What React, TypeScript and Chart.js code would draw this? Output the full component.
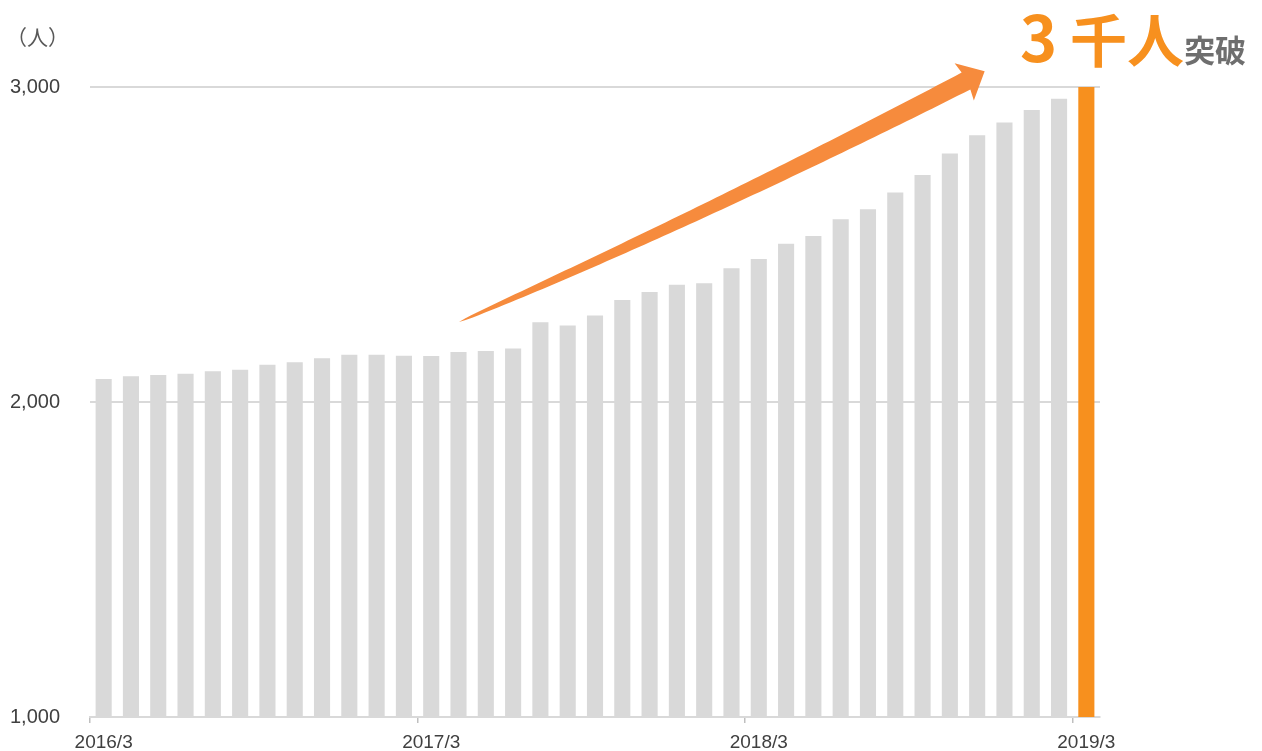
import React, { useEffect, useRef } from 'react';
import { Chart, registerables } from 'chart.js';

Chart.register(...registerables);

const months: string[] = [
  '2016/3', '2016/4', '2016/5', '2016/6', '2016/7', '2016/8', '2016/9', '2016/10', '2016/11', '2016/12',
  '2017/1', '2017/2', '2017/3', '2017/4', '2017/5', '2017/6', '2017/7', '2017/8', '2017/9', '2017/10',
  '2017/11', '2017/12', '2018/1', '2018/2', '2018/3', '2018/4', '2018/5', '2018/6', '2018/7', '2018/8',
  '2018/9', '2018/10', '2018/11', '2018/12', '2019/1', '2019/2', '2019/3',
];

const members: number[] = [
  2073, 2082, 2086, 2090, 2098, 2102, 2118, 2126, 2139, 2150,
  2150, 2147, 2146, 2159, 2162, 2170, 2253, 2243, 2275, 2324,
  2349, 2372, 2377, 2425, 2454, 2502, 2527, 2580, 2612, 2665,
  2721, 2789, 2847, 2887, 2927, 2963, 3000,
];

const yTicks: number[] = [1000, 2000, 3000];

const GRAY = '#D9D9D9';
const ORANGE = '#F7901E';
const ARROW = '#F68B3D';
const TEXT = '#404040';

const arrowPlugin = {
  id: 'growthArrow',
  afterDatasetsDraw(chart: any) {
    const ctx = chart.ctx as CanvasRenderingContext2D;
    const P0 = { x: 459, y: 322 };
    const C = { x: 712, y: 212 };
    const P2 = { x: 966, y: 81 };
    const N = 80;
    const maxHalf = 9.5;
    const upper: { x: number; y: number }[] = [];
    const lower: { x: number; y: number }[] = [];
    let lastD = { x: 1, y: 0 };
    for (let i = 0; i <= N; i++) {
      const t = i / N;
      const mt = 1 - t;
      const px = mt * mt * P0.x + 2 * mt * t * C.x + t * t * P2.x;
      const py = mt * mt * P0.y + 2 * mt * t * C.y + t * t * P2.y;
      let dx = 2 * mt * (C.x - P0.x) + 2 * t * (P2.x - C.x);
      let dy = 2 * mt * (C.y - P0.y) + 2 * t * (P2.y - C.y);
      const len = Math.hypot(dx, dy);
      dx /= len;
      dy /= len;
      lastD = { x: dx, y: dy };
      const nx = -dy;
      const ny = dx;
      const h = maxHalf * Math.pow(t, 0.55);
      upper.push({ x: px - nx * h, y: py - ny * h });
      lower.push({ x: px + nx * h, y: py + ny * h });
    }
    const d = lastD;
    const n = { x: -d.y, y: d.x };
    const headHalf = 21;
    const headLen = 21;
    const sweep = 2;
    ctx.save();
    ctx.fillStyle = ARROW;
    ctx.beginPath();
    ctx.moveTo(upper[0].x, upper[0].y);
    for (let i = 1; i < upper.length; i++) ctx.lineTo(upper[i].x, upper[i].y);
    ctx.lineTo(P2.x - n.x * headHalf - d.x * sweep, P2.y - n.y * headHalf - d.y * sweep);
    ctx.lineTo(P2.x + d.x * headLen, P2.y + d.y * headLen);
    ctx.lineTo(P2.x + n.x * headHalf - d.x * sweep, P2.y + n.y * headHalf - d.y * sweep);
    for (let i = lower.length - 1; i >= 0; i--) ctx.lineTo(lower[i].x, lower[i].y);
    ctx.closePath();
    ctx.fill();
    ctx.restore();
  },
};

export default function App() {
  const canvasRef = useRef<HTMLCanvasElement | null>(null);

  useEffect(() => {
    if (!canvasRef.current) return;
    document.body.style.margin = '0';
    const colors = members.map((_, i) => (i === members.length - 1 ? ORANGE : GRAY));
    const chart = new Chart(canvasRef.current, {
      type: 'bar',
      data: {
        labels: months,
        datasets: [
          {
            data: members,
            backgroundColor: colors,
            borderWidth: 0,
            barPercentage: 0.59,
            categoryPercentage: 1,
          },
        ],
      },
      options: {
        animation: false,
        responsive: false,
        devicePixelRatio: 1,
        layout: { padding: { top: 87, right: 162, left: 10, bottom: 0 } },
        plugins: {
          legend: { display: false },
          tooltip: { enabled: false },
        },
        scales: {
          x: {
            type: 'category',
            offset: true,
            afterFit: (scale: any) => {
              scale.height = 34;
            },
            grid: {
              offset: true,
              drawOnChartArea: false,
              drawTicks: true,
              tickLength: 6,
              lineWidth: 1.5,
              color: (c: any) => (c.index % 12 === 0 ? '#BFBFBF' : 'rgba(0,0,0,0)'),
            },
            border: { display: true, color: GRAY, width: 2 },
            ticks: {
              autoSkip: false,
              maxRotation: 0,
              minRotation: 0,
              padding: 8,
              color: TEXT,
              font: { family: '"Liberation Sans", Arial, sans-serif', size: 19 },
              callback: (_v: any, i: number) => (i % 12 === 0 ? months[i] : ''),
            },
          },
          y: {
            min: 1000,
            max: 3000,
            afterFit: (scale: any) => {
              scale.width = 80;
            },
            afterBuildTicks: (scale: any) => {
              scale.ticks = yTicks.map((v) => ({ value: v }));
            },
            grid: { color: GRAY, lineWidth: 2, drawTicks: false },
            border: { display: false },
            ticks: {
              padding: 0,
              crossAlign: 'far',
              color: TEXT,
              font: { family: '"Liberation Sans", Arial, sans-serif', size: 20 },
              callback: (v: any) => Number(v).toLocaleString('en-US'),
            },
          },
        },
      },
      plugins: [arrowPlugin],
    });
    return () => chart.destroy();
  }, []);

  return (
    <div
      style={{
        position: 'fixed',
        left: 0,
        top: 0,
        width: 1262,
        height: 751,
        background: '#ffffff',
        overflow: 'hidden',
      }}
    >
      <canvas
        ref={canvasRef}
        width={1262}
        height={751}
        style={{ position: 'absolute', left: 0, top: 0, width: 1262, height: 751, display: 'block' }}
      />
      <div
        style={{
          position: 'absolute',
          left: 6,
          top: 26,
          fontFamily: '"Noto Sans CJK JP", sans-serif',
          fontSize: 21,
          lineHeight: 1,
          color: '#595959',
          whiteSpace: 'nowrap',
        }}
      >
        （人）
      </div>
      <div
        style={{
          position: 'absolute',
          left: 1020,
          top: 3,
          fontFamily: '"Noto Sans CJK JP", sans-serif',
          fontWeight: 700,
          fontSize: 57,
          lineHeight: 1,
          color: ORANGE,
          whiteSpace: 'nowrap',
        }}
      >
        <span style={{ fontSize: 63 }}>3</span>
        {' 千人'}
        <span style={{ fontSize: 31, color: '#6E6E6E' }}>突破</span>
      </div>
    </div>
  );
}
